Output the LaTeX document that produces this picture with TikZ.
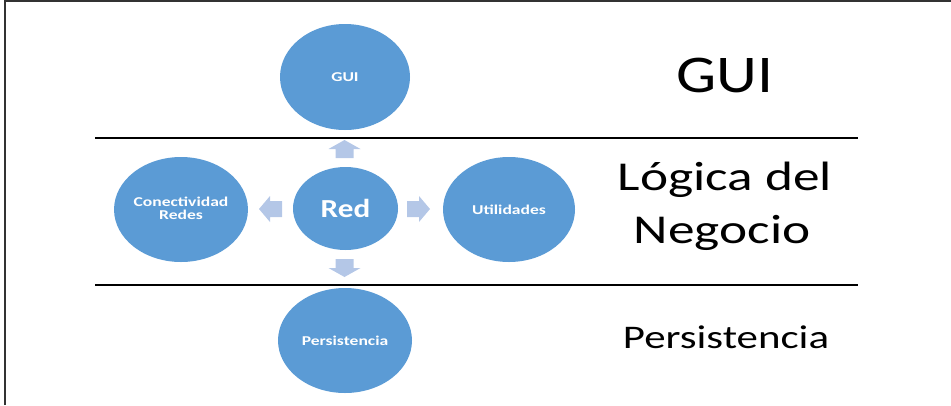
\documentclass[tikz,border=0pt]{standalone}
\usepackage{fontspec}
\setmainfont{Carlito}
\usetikzlibrary{shapes.geometric}
\definecolor{ellblue}{HTML}{5B9BD5}
\definecolor{arrblue}{HTML}{B4C7E7}
\tikzset{
  bubble/.style={ellipse, fill=ellblue, draw=none, inner sep=0pt, text=white, font=\bfseries, align=center},
  blockarr/.style={fill=arrblue, draw=none},
  layerline/.style={line width=2pt, black},
  layertext/.style={inner sep=0pt, text=black, align=center},
}
\newcommand{\hs}[2][1.3]{\scalebox{#1}[1]{#2}}
\begin{document}
\begin{tikzpicture}[x=1pt,y=-1pt]
\useasboundingbox (0,0) rectangle (951,405);
% frame
\draw[line width=1.2pt, black!80] (5,405) -- (5,1) -- (951,1);
% layer lines
\coordinate (l1a) at (95,137.5); \coordinate (l1b) at (858,137.5);
\coordinate (l2a) at (95,284.5); \coordinate (l2b) at (858,284.5);
\draw[layerline] (l1a) -- (l1b);
\draw[layerline] (l2a) -- (l2b);
% ellipses
\node[bubble, minimum width=130pt, minimum height=106pt] (gui) at (345,77) {\fontsize{13.5}{15}\selectfont\hs{GUI}};
\node[bubble, minimum width=105pt, minimum height=83pt] (red) at (345.5,208.5) {\fontsize{26}{28}\selectfont\hs[1.2]{Red}};
\node[bubble, minimum width=131pt, minimum height=105pt] (con) at (181,209.5) {\fontsize{13.5}{15}\selectfont\hs{\begin{tabular}{@{}c@{}}Conectividad\\[-2pt]Redes\end{tabular}}};
\node[bubble, minimum width=132pt, minimum height=105pt] (uti) at (509,209.5) {\fontsize{13.5}{15}\selectfont\hs{Utilidades}};
\node[bubble, minimum width=134pt, minimum height=105pt] (per) at (345,340.5) {\fontsize{13.5}{15}\selectfont\hs{Persistencia}};
% block arrows
\path[blockarr] (344.5,140) -- ++(16,9) -- ++(-7,0) -- ++(0,9) -- ++(-18,0) -- ++(0,-9) -- ++(-7,0) -- cycle;
\path[blockarr] (344.5,277) -- ++(16,-9) -- ++(-7,0) -- ++(0,-9) -- ++(-18,0) -- ++(0,9) -- ++(-7,0) -- cycle;
\path[blockarr] (259,209) -- ++(11,-13) -- ++(0,5) -- ++(12,0) -- ++(0,16) -- ++(-12,0) -- ++(0,5) -- cycle;
\path[blockarr] (430,209) -- ++(-11,-13) -- ++(0,5) -- ++(-12,0) -- ++(0,16) -- ++(12,0) -- ++(0,5) -- cycle;
% layer names
\node[layertext, anchor=base] (tgui) at (725,92) {\fontsize{53}{60}\selectfont\hs[1.2]{GUI}};
\node[layertext, anchor=base] (tlog1) at (725,190) {\fontsize{41}{53}\selectfont\hs{Lógica del}};
\node[layertext, anchor=base] (tlog2) at (722,243) {\fontsize{41}{53}\selectfont\hs{Negocio}};
\node[layertext, anchor=base] (tper) at (726,348) {\fontsize{33}{40}\selectfont\hs{Persistencia}};
\end{tikzpicture}
\end{document}
